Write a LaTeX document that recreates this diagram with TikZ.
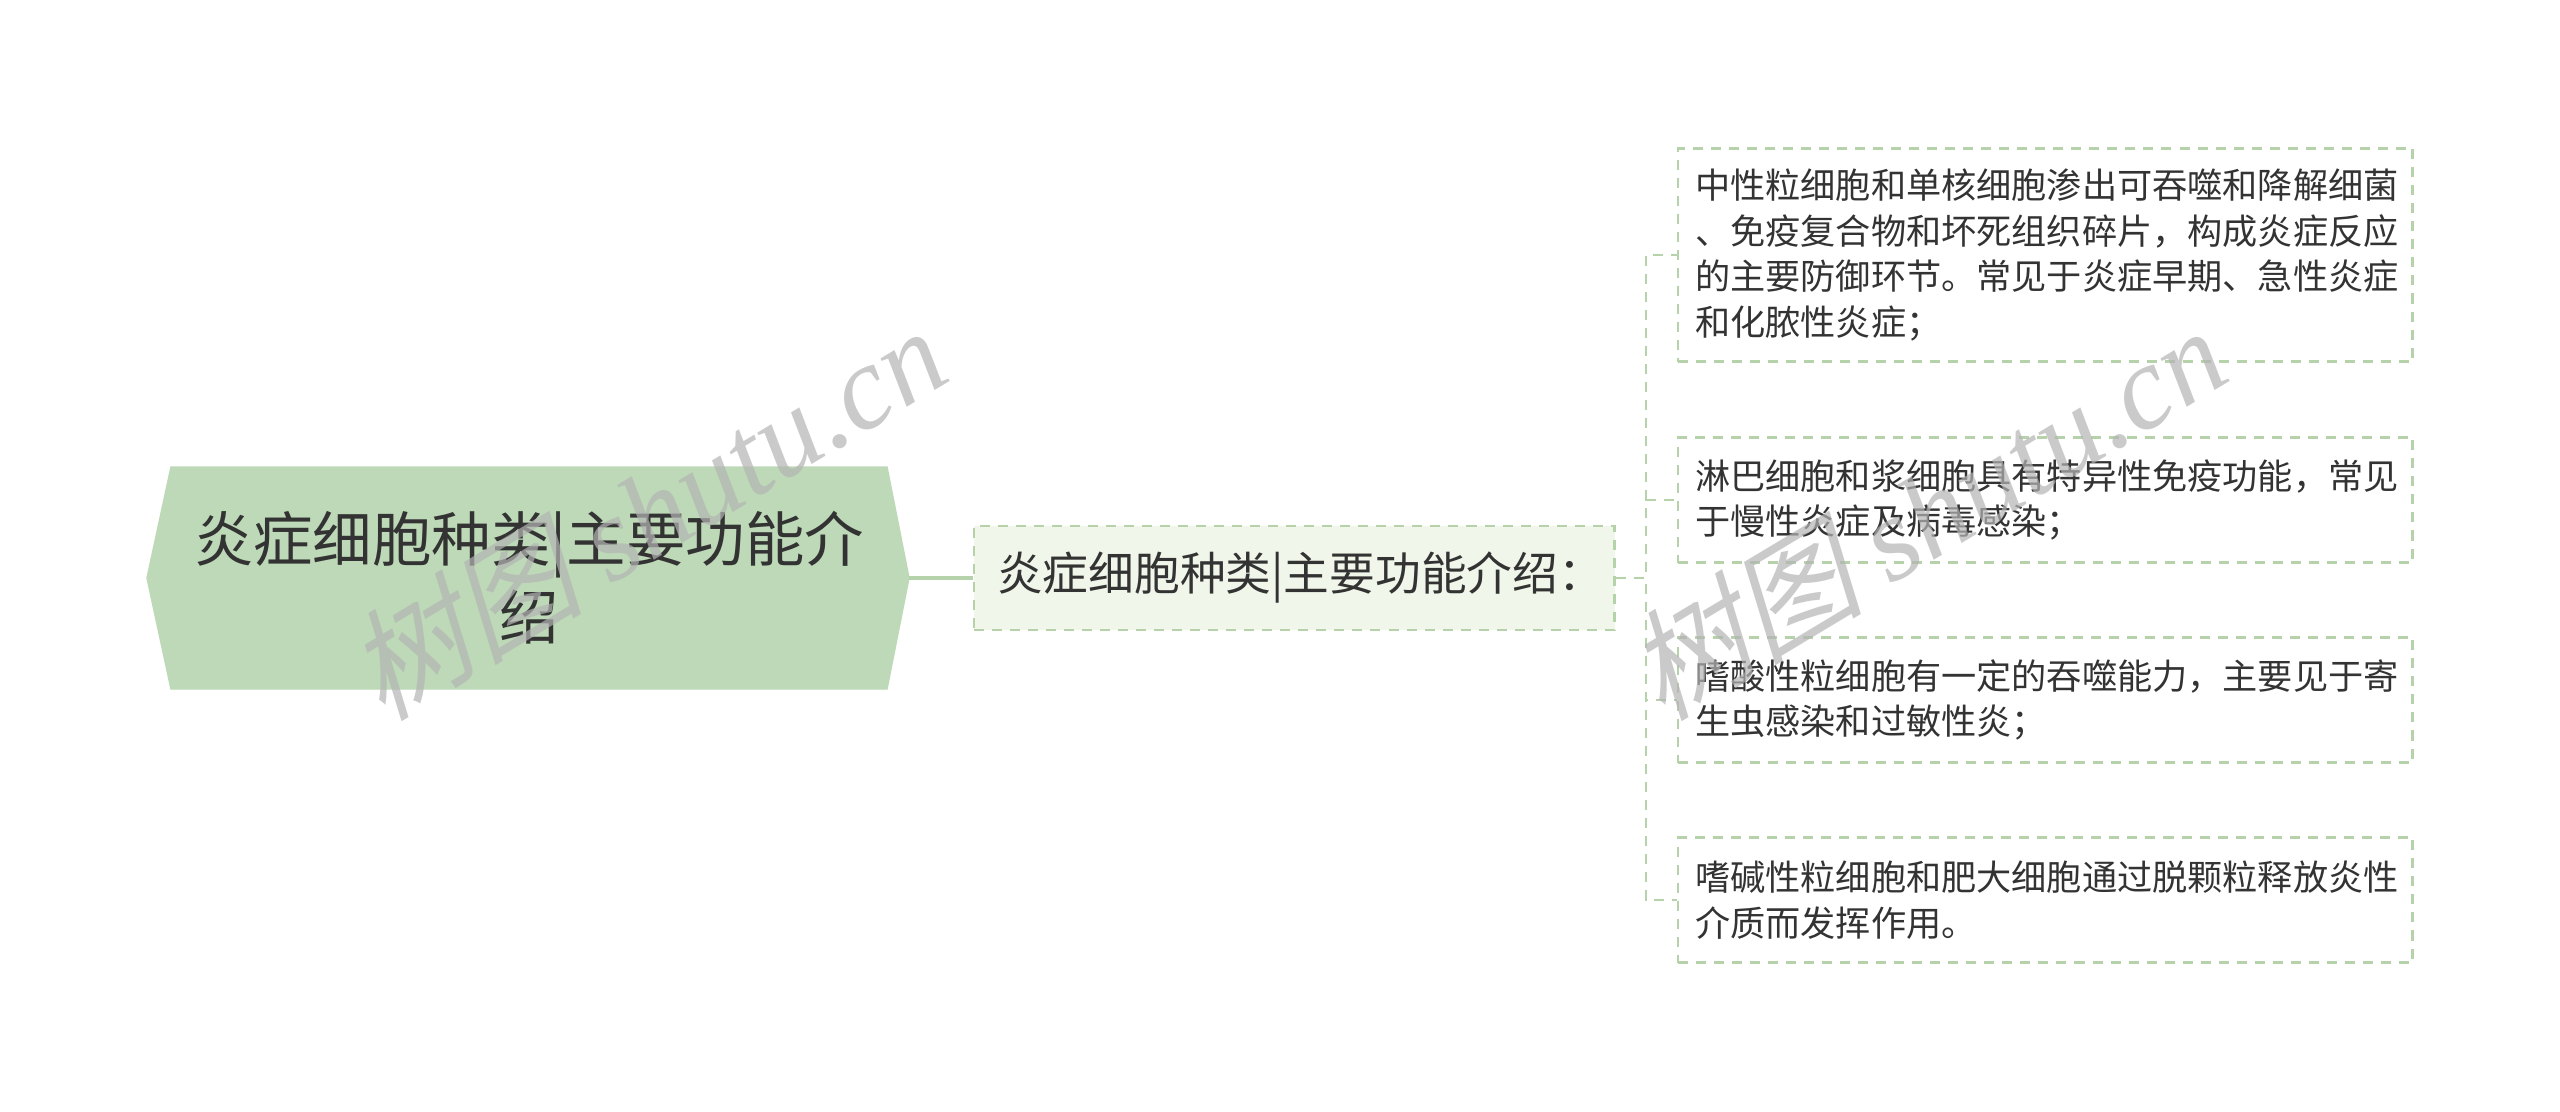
\documentclass[tikz,border=0pt]{standalone}
\usepackage{fontspec}
\setmainfont{Noto Sans CJK SC}
\newfontfamily\markcjk{Noto Sans CJK SC}[FakeSlant=0.25]
\newfontfamily\markserif{Liberation Serif}
\usetikzlibrary{positioning}
\definecolor{rootfill}{HTML}{BDD9B7}
\definecolor{midfill}{HTML}{F0F7EA}
\definecolor{linegreen}{HTML}{B5D2AB}
\definecolor{textgray}{HTML}{333333}
\definecolor{markgray}{HTML}{B4B4B4}
\tikzset{
  roottext/.style={text=textgray, align=center, inner sep=0pt,
    font=\fontsize{16.9pt}{22.2pt}\selectfont},
  midbox/.style={draw=linegreen, fill=midfill, dashed, dash pattern=on 0.1cm off 0.08cm,
    line width=0.7pt, text=textgray, align=left, text width=5.94cm, inner xsep=0.23cm,
    minimum height=1.04cm, font=\fontsize{13pt}{16pt}\selectfont},
  leafbox/.style={draw=linegreen, fill=white, dash pattern=on 0.1cm off 0.08cm,
    line width=0.7pt, text=textgray, align=left, text width=7.0cm, inner xsep=0.17cm,
    minimum height=1.25cm, font=\fontsize{10pt}{13pt}\selectfont},
  link/.style={draw=linegreen, line width=0.7pt, dash pattern=on 0.1cm off 0.08cm},
  watermark/.style={text=markgray, opacity=0.7, rotate=31, inner sep=0pt,
    font=\fontsize{34pt}{34pt}\selectfont}
}
\begin{document}
\begin{tikzpicture}[x=0.01cm, y=-0.01cm]
  \useasboundingbox[fill=white] (0, 0) rectangle (2560, 1112);

  % main topic
  \filldraw[rootfill] (147, 578) -- (171, 467) -- (887, 467) -- (909, 578)
    -- (887, 689) -- (171, 689) -- cycle;
  \node[roottext] (root) at (529, 578) {炎症细胞种类|主要功能介\\绍};
  \coordinate (rootE) at (909, 578);

  \node[midbox, anchor=west] (mid) at (973, 578) {炎症细胞种类|主要功能介绍：};
  \draw[linegreen, line width=1.1pt] (rootE) -- (mid.west);

  % leaves
  \node[leafbox, anchor=west, minimum height=2.13cm] (leaf1) at (1677, 255) {中性粒细胞和单核细胞渗出可吞噬和降解细菌\\、免疫复合物和坏死组织碎片，构成炎症反应\\的主要防御环节。常见于炎症早期、急性炎症\\和化脓性炎症；};
  \node[leafbox, anchor=west] (leaf2) at (1677, 500) {淋巴细胞和浆细胞具有特异性免疫功能，常见\\于慢性炎症及病毒感染；};
  \node[leafbox, anchor=west] (leaf3) at (1677, 700) {嗜酸性粒细胞有一定的吞噬能力，主要见于寄\\生虫感染和过敏性炎；};
  \node[leafbox, anchor=west] (leaf4) at (1677, 900) {嗜碱性粒细胞和肥大细胞通过脱颗粒释放炎性\\介质而发挥作用。};

  \coordinate (fork) at (1646, 578);
  \foreach \leaf in {leaf1, leaf2, leaf3, leaf4}
    \draw[link] (mid.east) -- (fork) |- (\leaf.west);

  % watermarks
  \node[watermark] (mark1) at (645, 512) {{\markcjk 树图} {\markserif\itshape shutu.cn}};
  \node[watermark] (mark2) at (1925, 512) {{\markcjk 树图} {\markserif\itshape shutu.cn}};
\end{tikzpicture}
\end{document}
